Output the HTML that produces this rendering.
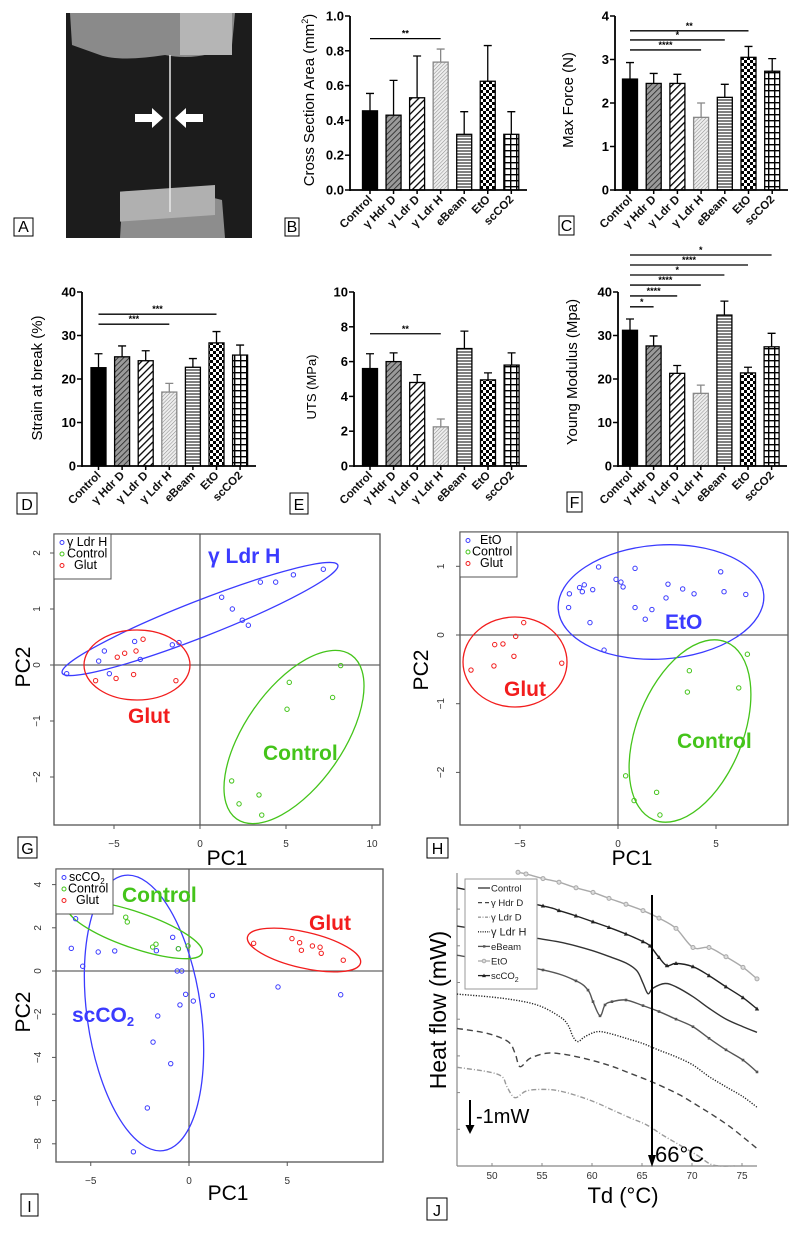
<!DOCTYPE html>
<html><head><meta charset="utf-8"><style>
html,body{margin:0;padding:0;background:#fff;}
svg{display:block;font-family:"Liberation Sans",Arial,sans-serif;}
</style></head><body>
<svg id="fig" width="800" height="1233" viewBox="0 0 800 1233" xmlns="http://www.w3.org/2000/svg">
<defs>
<pattern id="pHdr" width="4" height="4" patternUnits="userSpaceOnUse" patternTransform="rotate(45)"><rect width="4" height="4" fill="#9a9a9a"/><line x1="0" y1="0" x2="0" y2="4" stroke="#222" stroke-width="1.6"/></pattern>
<pattern id="pLdrD" width="5" height="5" patternUnits="userSpaceOnUse" patternTransform="rotate(45)"><rect width="5" height="5" fill="#fff"/><line x1="0" y1="0" x2="0" y2="5" stroke="#000" stroke-width="2.6"/></pattern>
<pattern id="pLdrH" width="2.6" height="2.6" patternUnits="userSpaceOnUse" patternTransform="rotate(45)"><rect width="2.6" height="2.6" fill="#eee"/><line x1="0" y1="0" x2="0" y2="2.6" stroke="#888" stroke-width="1"/></pattern>
<pattern id="pEbeam" width="4" height="3" patternUnits="userSpaceOnUse"><rect width="4" height="3" fill="#fff"/><line x1="0" y1="1" x2="4" y2="1" stroke="#555" stroke-width="1.5"/></pattern>
<pattern id="pEto" width="6" height="6" patternUnits="userSpaceOnUse"><rect width="6" height="6" fill="#fff"/><rect width="3" height="3" fill="#000"/><rect x="3" y="3" width="3" height="3" fill="#000"/></pattern>
<pattern id="pSc" width="6" height="6" patternUnits="userSpaceOnUse"><rect width="6" height="6" fill="#fff"/><line x1="0" y1="0.7" x2="6" y2="0.7" stroke="#000" stroke-width="1.4"/><line x1="0.7" y1="0" x2="0.7" y2="6" stroke="#000" stroke-width="1.4"/></pattern>
</defs>
<g>
<rect x="66" y="13" width="186" height="225" fill="#1c1c1c"/>
<path d="M70 13 L235 13 L232 45 Q200 62 165 55 Q120 62 100 55 L72 45 Z" fill="#8a8a8a"/>
<rect x="180" y="13" width="52" height="42" fill="#b5b5b5"/>
<path d="M120 238 L122 205 Q150 190 190 192 L222 200 L225 238 Z" fill="#8d8d8d"/>
<rect x="120" y="200" width="95" height="30" fill="#b0b0b0" transform="skewY(-4)"/>
<line x1="170" y1="55" x2="170" y2="212" stroke="#e8e8e8" stroke-width="1.5"/>
<path d="M135 114 L152 114 L152 108 L163 118 L152 128 L152 122 L135 122 Z" fill="#fff"/>
<path d="M203 114 L186 114 L186 108 L175 118 L186 128 L186 122 L203 122 Z" fill="#fff"/>
</g>
</svg>
<script>
// ---------- data ----------
const categories = ["Control","\u03b3 Hdr D","\u03b3 Ldr D","\u03b3 Ldr H","eBeam","EtO","scCO2"];
const bMeans = [0.455,0.43,0.53,0.735,0.32,0.625,0.32];
const bSd = [0.10,0.20,0.24,0.075,0.13,0.205,0.13];
const cMeans = [2.55,2.45,2.45,1.67,2.13,3.05,2.73];
const cSd = [0.38,0.23,0.21,0.33,0.30,0.25,0.29];
const dMeans = [22.6,25.1,24.2,17.0,22.7,28.3,25.5];
const dSd = [3.2,2.5,2.3,2.0,2.0,2.6,2.3];
const eMeans = [5.6,6.0,4.8,2.25,6.75,4.95,5.8];
const eSd = [0.85,0.5,0.45,0.45,1.0,0.4,0.7];
const fMeans = [31.2,27.6,21.3,16.7,34.7,21.4,27.4];
const fSd = [2.6,2.3,1.8,1.9,3.2,1.3,3.1];
const bTicks = [0,0.2,0.4,0.6,0.8,1.0];
const bTickLabels = ["0.0","0.2","0.4","0.6","0.8","1.0"];
const cTicks = [0,1,2,3,4];
const dTicks = [0,10,20,30,40];
const eTicks = [0,2,4,6,8,10];
const fTicks = [0,10,20,30,40];
const bSigTargets = [3]; const bSigLevels = [0.87]; const bSigText = ["**"];
const cSigTargets = [5,4,3]; const cSigLevels = [3.66,3.45,3.22]; const cSigText = ["**","*","****"];
const dSigTargets = [5,3]; const dSigLevels = [34.9,32.6]; const dSigText = ["***","***"];
const eSigTargets = [3]; const eSigLevels = [7.6]; const eSigText = ["**"];
const fSigTargets = [6,5,4,3,2,1]; const fSigLevels = [48.5,46.2,43.9,41.6,39.1,36.6]; const fSigText = ["*","****","*","****","****","*"];

// PCA G
const gBlueX = [-7.75,-5.89,-5.56,-5.27,-3.80,-3.47,-1.61,-1.22,1.26,1.88,2.46,2.81,3.51,4.40,5.43,7.17];
const gBlueY = [-0.155,0.07,0.25,-0.155,0.42,0.10,0.36,0.40,1.21,1.0,0.80,0.71,1.48,1.48,1.61,1.71];
const gRedX = [-6.07,-4.88,-4.81,-4.38,-3.86,-3.72,-3.31,-1.40];
const gRedY = [-0.28,-0.24,0.14,0.21,-0.17,0.25,0.46,-0.28];
const gGreenX = [8.18,5.19,7.71,5.06,1.84,2.27,3.43,3.59];
const gGreenY = [-0.01,-0.31,-0.58,-0.79,-2.07,-2.48,-2.32,-2.68];
const gXTicks = [-5,0,5,10]; const gYTicks = [-2,-1,0,1,2];
// PCA H
const hBlueX = [-2.48,-2.52,-1.96,-1.82,-1.72,-1.29,-1.43,-0.99,-0.71,-0.10,0.15,0.26,0.87,0.87,1.39,1.73,2.45,2.55,3.30,3.88,5.24,5.41,6.52];
const hBlueY = [0.60,0.40,0.69,0.63,0.73,0.66,0.18,0.99,-0.22,0.81,0.77,0.70,0.97,0.40,0.23,0.37,0.54,0.74,0.67,0.60,0.92,0.63,0.59];
const hRedX = [-7.5,-6.33,-6.29,-5.87,-5.31,-5.22,-4.81,-2.87];
const hRedY = [-0.51,-0.45,-0.14,-0.13,-0.31,-0.02,0.18,-0.41];
const hGreenX = [6.60,3.64,3.54,6.16,0.39,0.82,1.97,2.14];
const hGreenY = [-0.28,-0.52,-0.83,-0.77,-2.05,-2.41,-2.29,-2.62];
const hXTicks = [-5,0,5]; const hYTicks = [-2,-1,0,1];
// PCA I
const iBlueX = [-5.77,-5.99,-4.62,-3.78,-5.41,-1.66,-0.83,-0.54,-0.60,-0.37,-0.17,-0.46,0.22,1.19,-1.59,-1.83,-0.93,-2.12,-2.83,4.53,7.72];
const iBlueY = [2.42,1.05,0.88,0.93,0.22,0.94,1.56,1.03,0,0,-1.08,-1.57,-1.39,-1.13,-2.08,-3.29,-4.29,-6.34,-8.37,-0.74,-1.10];
const iGreenX = [-3.22,-3.14,-1.68,-1.85,-0.54,-0.05];
const iGreenY = [2.49,2.27,1.24,1.11,1.03,1.16];
const iRedX = [3.29,5.24,5.63,5.72,6.28,6.67,6.73,7.85];
const iRedY = [1.28,1.50,1.31,0.96,1.16,1.10,0.82,0.50];
const iXTicks = [-5,0,5]; const iYTicks = [-8,-6,-4,-2,0,2,4];
// DSC J
const jXTicks = [50,55,60,65,70,75];
const jEtoT = [52.6,53.4,55.1,56.7,58.4,60.1,61.7,63.4,65.1,66.7,68.4,70.1,71.7,73.4,75.1,76.5];
const jEtoV = [8.90,8.85,8.71,8.60,8.43,8.29,8.11,7.93,7.74,7.51,7.20,6.62,6.62,6.34,6.02,5.67];
const jScT = [46.5,55.1,56.7,58.4,60.1,61.7,63.4,65.1,65.8,66.7,67.5,68.4,70.1,71.7,73.4,75.1,76.5];
const jScV = [8.43,7.88,7.74,7.58,7.40,7.23,7.03,6.80,6.67,6.32,6.07,6.14,6.04,5.77,5.43,5.10,4.76];
const jCtrlT = [46.5,54.5,56.7,58.4,60.1,61.7,63.4,64.5,65.1,65.6,66.1,67.3,68.4,70.1,71.7,73.4,75.1,76.5];
const jCtrlV = [7.27,6.90,6.79,6.67,6.52,6.35,6.15,5.91,5.54,5.22,5.39,5.53,5.43,5.13,4.78,4.45,4.22,4.05];
const jEbT = [46.5,55.1,58.4,59.6,60.1,60.8,61.3,62.0,63.4,65.1,66.7,68.4,70.1,71.7,73.4,75.1,76.5];
const jEbV = [6.39,5.94,5.61,5.33,4.98,4.55,4.88,4.98,5.03,4.86,4.68,4.45,4.22,3.87,3.52,3.21,2.85];
const jLhT = [46.5,51.1,54.5,56.8,57.6,58.1,58.6,59.3,60.5,61.7,63.4,65.1,66.7,68.4,70.1,71.7,73.4,75.1,76.5];
const jLhV = [5.21,5.08,4.88,4.52,4.27,3.92,3.77,3.92,4.07,4.02,3.87,3.71,3.51,3.31,3.06,2.71,2.40,2.10,1.78];
const jHdT = [46.5,49.5,51.6,52.3,52.8,53.8,55.5,57.1,58.8,60.5,62.1,63.8,65.5,67.1,68.8,70.5,72.1,73.8,75.5,76.5];
const jHdV = [4.17,4.02,3.77,3.42,3.01,3.26,3.42,3.39,3.29,3.16,3.01,2.81,2.61,2.40,2.15,1.84,1.54,1.19,0.78,0.53];
const jLdT = [46.5,49.5,51.0,51.5,52.3,53.5,55.5,57.1,58.8,60.5,62.1,63.8,65.5,67.1,68.8,70.5,72.1,74.3];
const jLdV = [2.99,2.86,2.71,2.40,2.07,2.28,2.32,2.25,2.10,1.91,1.69,1.46,1.24,0.93,0.63,0.33,0.03,0.0];

// ---------- helpers ----------
const svg = document.getElementById('fig');
const NS = 'http://www.w3.org/2000/svg';
function mk(tag, attrs, parent){const e=document.createElementNS(NS,tag);for(const k in attrs)e.setAttribute(k,attrs[k]);(parent||svg).appendChild(e);return e;}
function txt(s, attrs, parent){const e=mk('text',attrs,parent);e.textContent=s;return e;}

function letterBox(ch,x,y,w,h){
  const g=mk('g',{});
  
  
  mk('rect',{x:x,y:y,width:w,height:h,fill:'#fff',stroke:'#000','stroke-width':1},g);
  txt(ch,{x:x+w/2,y:y+h-4,'text-anchor':'middle','font-size':16},g);
}

const fills = ['#000','url(#pHdr)','url(#pLdrD)','url(#pLdrH)','url(#pEbeam)','url(#pEto)','url(#pSc)'];

function barChart(id,cfg,means,sd,ticks,tickLabels,sigT,sigL,sigTxt){
  const g=mk('g',{});
  
  
  const yS=v=>cfg.y0-(v/cfg.max)*(cfg.y0-cfg.top);
  const xS=i=>cfg.c0+i*cfg.sp;
  // bars
  means.forEach((m,i)=>{
    const top=yS(m+sd[i]);
    const eb=mk('path',{d:`M${xS(i)} ${yS(m)} V${top} M${xS(i)-4} ${top} H${xS(i)+4}`,stroke:i==3?'#888':'#000','stroke-width':1.3,fill:'none'},g);
    
    
    const r=mk('rect',{x:xS(i)-7.5,y:yS(m),width:15,height:cfg.y0-yS(m),fill:fills[i],stroke:i==3?'#888':'#000','stroke-width':1.3},g);
    
    
    mk('line',{x1:xS(i),y1:cfg.y0,x2:xS(i),y2:cfg.y0+4,stroke:'#000','stroke-width':1.5},g);
    const l=txt(categories[i],{x:xS(i)+3,y:cfg.y0+10,'text-anchor':'end','font-size':11.5,'font-weight':'bold',fill:'#111',transform:`rotate(-45 ${xS(i)+3} ${cfg.y0+10})`},g);
    
    
  });
  // axes
  const ya=mk('line',{x1:cfg.ax,y1:cfg.top,x2:cfg.ax,y2:cfg.y0+1,stroke:'#000','stroke-width':1.8},g);
  
  
  const xa=mk('line',{x1:cfg.ax,y1:cfg.y0,x2:cfg.xend,y2:cfg.y0,stroke:'#000','stroke-width':1.8},g);
  
  
  ticks.forEach((t,k)=>{
    mk('line',{x1:cfg.ax-5,y1:yS(t),x2:cfg.ax,y2:yS(t),stroke:'#000','stroke-width':1.5},g);
    const tl=txt(tickLabels?tickLabels[k]:String(t),{x:cfg.lx,y:yS(t)+4.5,'text-anchor':'end','font-size':13,'font-weight':'bold'},g);
    
    
  });
  const yt=txt(cfg.title,{x:cfg.tx,y:cfg.ty,'text-anchor':'middle','font-size':cfg.tfs||15,transform:`rotate(-90 ${cfg.tx} ${cfg.ty})`},g);
  
  
  if(cfg.sup){const ts=mk('tspan',{'font-size':9,dy:-6},yt);ts.textContent='2';const t2=mk('tspan',{dy:6},yt);t2.textContent=')';}
  // significance
  sigT.forEach((t,k)=>{
    const y=yS(sigL[k]);
    const s=mk('line',{x1:xS(0),y1:y,x2:xS(t),y2:y,stroke:'#000','stroke-width':1.3},g);
    
    
    const st=txt(sigTxt[k],{x:(xS(0)+xS(t))/2,y:y-2,'text-anchor':'middle','font-size':9,'font-weight':'bold'},g);
    
    
  });
}

barChart('b',{ax:350,y0:190,top:16,max:1.0,c0:370,sp:23.55,xend:527,lx:344,title:'Cross Section Area (mm',sup:true,tx:314,ty:100},bMeans,bSd,bTicks,bTickLabels,bSigTargets,bSigLevels,bSigText);
barChart('c',{ax:615,y0:190,top:16,max:4,c0:630,sp:23.7,xend:788,lx:609,title:'Max Force (N)',tx:573,ty:100},cMeans,cSd,cTicks,null,cSigTargets,cSigLevels,cSigText);
barChart('d',{ax:82,y0:466,top:292,max:40,c0:98.5,sp:23.6,xend:256,lx:76,title:'Strain at break (%)',tx:42,ty:378},dMeans,dSd,dTicks,null,dSigTargets,dSigLevels,dSigText);
barChart('e',{ax:354,y0:466,top:292,max:10,c0:370,sp:23.6,xend:527,lx:348,title:'UTS (MPa)',tx:316,ty:387,tfs:13},eMeans,eSd,eTicks,null,eSigTargets,eSigLevels,eSigText);
barChart('f',{ax:618,y0:466,top:292,max:40,c0:630,sp:23.6,xend:787,lx:612,title:'Young Modulus (Mpa)',tx:577,ty:372},fMeans,fSd,fTicks,null,fSigTargets,fSigLevels,fSigText);

// ---------- scatter (PCA) ----------
function pca(id,cfg,series,xt,yt,ellipses,labels,legend){
  const g=mk('g',{});
  
  
  const xS=v=>cfg.x0+v*cfg.xs, yS=v=>cfg.y0-v*cfg.ys;
  const fr=mk('rect',{x:cfg.l,y:cfg.t,width:cfg.r-cfg.l,height:cfg.b-cfg.t,fill:'none',stroke:'#555','stroke-width':1.3},g);
  
  
  mk('line',{x1:cfg.l,y1:yS(0),x2:cfg.r,y2:yS(0),stroke:'#666','stroke-width':1.2},g);
  mk('line',{x1:xS(0),y1:cfg.t,x2:xS(0),y2:cfg.b,stroke:'#555','stroke-width':1.2},g);
  xt.forEach(t=>{
    mk('line',{x1:xS(t),y1:cfg.b,x2:xS(t),y2:cfg.b+4,stroke:'#555'},g);
    const tl=txt(t<0?'\u2212'+(-t):String(t),{x:xS(t),y:cfg.xly,'text-anchor':'middle','font-size':10,fill:'#333'},g);
    
    
  });
  yt.forEach(t=>{
    mk('line',{x1:cfg.l-4,y1:yS(t),x2:cfg.l,y2:yS(t),stroke:'#555'},g);
    const tl=txt(t<0?'\u2212'+(-t):String(t),{x:cfg.ylx,y:yS(t),'text-anchor':'middle','font-size':10,fill:'#333',transform:`rotate(-90 ${cfg.ylx} ${yS(t)})`},g);
    
    
  });
  const xtit=txt('PC1',{x:cfg.pc1x,y:cfg.pc1y,'text-anchor':'middle','font-size':21},g);
  
  
  const ytit=txt('PC2',{x:cfg.pc2x,y:cfg.pc2y,'text-anchor':'middle','font-size':21,transform:`rotate(-90 ${cfg.pc2x} ${cfg.pc2y})`},g);
  
  
  ellipses.forEach(e=>{
    const el=mk('ellipse',{cx:e[0],cy:e[1],rx:e[2],ry:e[3],transform:`rotate(${e[4]} ${e[0]} ${e[1]})`,fill:'none',stroke:e[5],'stroke-width':1.3},g);
    
    
  });
  series.forEach(s=>{
    s.x.forEach((v,i)=>{
      const c=mk('circle',{cx:xS(v),cy:yS(s.y[i]),r:2.2,fill:'none',stroke:s.c,'stroke-width':1},g);
      
      
    });
  });
  labels.forEach(L=>{
    const t=txt(L[0],{x:L[1],y:L[2],'font-size':21,'font-weight':'bold',fill:L[3]},g);
    
    
    if(L[4]){const s=mk('tspan',{'font-size':13,dy:4},t);s.textContent='2';}
  });
  const lg=mk('g',{},g);
  
  
  mk('rect',{x:cfg.l,y:cfg.t,width:legend.w,height:legend.h,fill:'#fff',stroke:'#555','stroke-width':1},lg);
  legend.items.forEach((it,k)=>{
    const y=cfg.t+legend.y0+k*legend.dy;
    mk('circle',{cx:cfg.l+8,cy:y-3.5,r:2,fill:'none',stroke:it[1],'stroke-width':1},lg);
    const t=txt(it[0],{x:cfg.l+legend.tx[k],y:y,'font-size':12.5},lg);
    
    
    if(it[2]){const s=mk('tspan',{'font-size':8,dy:3},t);s.textContent='2';}
  });
}
const BL='#3b3bff',GR='#44c41a',RD='#f21d1d';
pca('g',{l:54,r:380,t:534,b:825,x0:200,xs:17.2,y0:665,ys:56,xly:847,ylx:40,pc1x:227,pc1y:865,pc2x:30,pc2y:667},
  [{x:gBlueX,y:gBlueY,c:BL,n:'ldr-h'},{x:gGreenX,y:gGreenY,c:GR,n:'control'},{x:gRedX,y:gRedY,c:RD,n:'glut'}],
  gXTicks,gYTicks,
  [[200,619,148,18,-21.4,BL],[137,665,53,35,0,RD],[294,737,100,49,-55,GR]],
  [['\u03b3 Ldr H',208,563,BL],['Glut',128,723,RD],['Control',263,760,GR]],
  {w:57,h:45,y0:12,dy:11.5,tx:[13,13,20],items:[['\u03b3 Ldr H',BL],['Control',GR],['Glut',RD]]});
pca('h',{l:460,r:788,t:532,b:825,x0:618,xs:19.6,y0:635,ys:68.7,xly:847,ylx:444,pc1x:632,pc1y:865,pc2x:428,pc2y:670},
  [{x:hBlueX,y:hBlueY,c:BL,n:'eto'},{x:hGreenX,y:hGreenY,c:GR,n:'control'},{x:hRedX,y:hRedY,c:RD,n:'glut'}],
  hXTicks,hYTicks,
  [[661,602,103,57,-4,BL],[515,662,52,45,0,RD],[690,731,96,53,-68,GR]],
  [['EtO',665,629,BL],['Glut',504,696,RD],['Control',677,748,GR]],
  {w:57,h:45,y0:12,dy:11.5,tx:[20,12,20],items:[['EtO',BL],['Control',GR],['Glut',RD]]});
pca('i',{l:56,r:383,t:869,b:1162,x0:189,xs:19.65,y0:971,ys:21.6,xly:1184,ylx:41,pc1x:228,pc1y:1200,pc2x:30,pc2y:1012},
  [{x:iBlueX,y:iBlueY,c:BL,n:'scco2'},{x:iGreenX,y:iGreenY,c:GR,n:'control'},{x:iRedX,y:iRedY,c:RD,n:'glut'}],
  iXTicks,iYTicks,
  [[144,1013,57,139,-8,BL],[135,930,71,18,19,GR],[304,950,58,18,13,RD]],
  [['Control',122,902,GR],['Glut',309,930,RD],['scCO',72,1022,BL,true]],
  {w:57,h:45,y0:12,dy:11.5,tx:[13,12,20],items:[['scCO',BL,true],['Control',GR],['Glut',RD]]});

// ---------- DSC J ----------
(function(){
  const g=mk('g',{});
  
  
  const L=457,R=757,B=1166,T=873;
  const xS=t=>L+(t-46.5)*10, yS=v=>B-v*33;
  const ya=mk('line',{x1:L,y1:T,x2:L,y2:B,stroke:'#888','stroke-width':1.2},g);
  
  
  const xa=mk('line',{x1:L,y1:B,x2:R,y2:B,stroke:'#888','stroke-width':1.2},g);
  
  
  for(let y=B-36.7;y>T;y-=36.7){mk('line',{x1:L,y1:y,x2:L+3,y2:y,stroke:'#888'},g);}
  jXTicks.forEach(t=>{
    mk('line',{x1:xS(t),y1:B,x2:xS(t),y2:B-3,stroke:'#888'},g);
    const tl=txt(String(t),{x:xS(t),y:B+13,'text-anchor':'middle','font-size':10,fill:'#333'},g);
    
    
  });
  const series=[
    {t:jLdT,v:jLdV,c:'#999',d:'5 2 1 2',n:'ldr-d'},
    {t:jHdT,v:jHdV,c:'#444',d:'6 4',n:'hdr-d'},
    {t:jLhT,v:jLhV,c:'#222',d:'1.2 1.5',n:'ldr-h'},
    {t:jEbT,v:jEbV,c:'#555',d:'',n:'ebeam',m:'sq'},
    {t:jCtrlT,v:jCtrlV,c:'#333',d:'',n:'control'},
    {t:jScT,v:jScV,c:'#222',d:'',n:'scco2',m:'tri'},
    {t:jEtoT,v:jEtoV,c:'#aaa',d:'',n:'eto',m:'circ'}
  ];
  series.forEach(s=>{
    const pts=s.t.map((t,i)=>[xS(t),yS(s.v[i])]);
    let d='M'+pts[0][0]+' '+pts[0][1];
    for(let i=1;i<pts.length;i++){
      const p0=pts[i-2]||pts[i-1],p1=pts[i-1],p2=pts[i],p3=pts[i+1]||p2;
      const c1=[p1[0]+(p2[0]-p0[0])/6,p1[1]+(p2[1]-p0[1])/6],c2=[p2[0]-(p3[0]-p1[0])/6,p2[1]-(p3[1]-p1[1])/6];
      d+=` C${c1[0]} ${c1[1]} ${c2[0]} ${c2[1]} ${p2[0]} ${p2[1]}`;
    }
    const p=mk('path',{d:d,fill:'none',stroke:s.c,'stroke-width':1.4,'stroke-dasharray':s.d},g);
    
    
    if(s.m){pts.forEach((q,i)=>{
      if(i==0&&s.m!='circ')return;
      let m;
      if(s.m=='circ')m=mk('circle',{cx:q[0],cy:q[1],r:2,fill:'#ddd',stroke:s.c},g);
      else if(s.m=='sq')m=mk('rect',{x:q[0]-1.3,y:q[1]-1.3,width:2.6,height:2.6,fill:s.c},g);
      else m=mk('path',{d:`M${q[0]} ${q[1]-2.3} L${q[0]+2.2} ${q[1]+1.6} L${q[0]-2.2} ${q[1]+1.6} Z`,fill:s.c},g);
      
      
    });}
  });
  // legend
  const lg=mk('g',{},g);
  
  
  mk('rect',{x:465,y:879,width:72,height:110,fill:'#fff',stroke:'#999','stroke-width':1},lg);
  const items=[['Control','#333','',''],['\u03b3 Hdr D','#444','4 3',''],['\u03b3 Ldr D','#999','3 1.5 1 1.5',''],['\u03b3 Ldr H','#222','1 1.3',''],['eBeam','#555','','sq'],['EtO','#aaa','','circ'],['scCO','#222','','tri']];
  items.forEach((it,k)=>{
    const y=888+k*14.6;
    mk('line',{x1:478,y1:y,x2:490,y2:y,stroke:it[1],'stroke-width':1.3,'stroke-dasharray':it[2]},lg);
    if(it[3]=='circ')mk('circle',{cx:484,cy:y,r:1.8,fill:'#ddd',stroke:'#aaa'},lg);
    if(it[3]=='sq')mk('rect',{x:483,y:y-1.2,width:2.4,height:2.4,fill:'#555'},lg);
    if(it[3]=='tri')mk('path',{d:`M484 ${y-2} L486 ${y+1.5} L482 ${y+1.5} Z`,fill:'#222'},lg);
    const t=txt(it[0],{x:491,y:y+3.5,'font-size':k==3?11:9.5,fill:'#222'},lg);
    
    
    if(k==6){const s=mk('tspan',{'font-size':7,dy:3},t);s.textContent='2';}
  });
  // 66 C marker
  const vl=mk('path',{d:`M${xS(66)} 895 V1160`,stroke:'#000','stroke-width':2},g);
  
  
  mk('path',{d:`M${xS(66)-4} 1155 L${xS(66)+4} 1155 L${xS(66)} 1167 Z`,fill:'#000'},g);
  const t66=txt('66\u00b0C',{x:655,y:1162,'font-size':22},g);
  
  
  const sc=mk('path',{d:'M470 1100 V1128',stroke:'#000','stroke-width':2},g);
  
  
  mk('path',{d:'M465.5 1125 L474.5 1125 L470 1134 Z',fill:'#000'},g);
  const smw=txt('-1mW',{x:476,y:1123,'font-size':20},g);
  
  
  const xt=txt('Td (\u00b0C)',{x:623,y:1203,'text-anchor':'middle','font-size':22},g);
  
  
  const yt=txt('Heat flow (mW)',{x:446,y:1010,'text-anchor':'middle','font-size':23,transform:'rotate(-90 446 1010)'},g);
  
  
})();

letterBox('A',14,218,19,18);
letterBox('B',285,218,14,18);
letterBox('C',559,216,15,19);
letterBox('D',17,493,20,21);
letterBox('E',290,493,18,21);
letterBox('F',567,492,15,20);
letterBox('G',18,837,19,21);
letterBox('H',427,838,21,20);
letterBox('I',21,1194,17,22);
letterBox('J',427,1198,20,22);
</script>
</body></html>
